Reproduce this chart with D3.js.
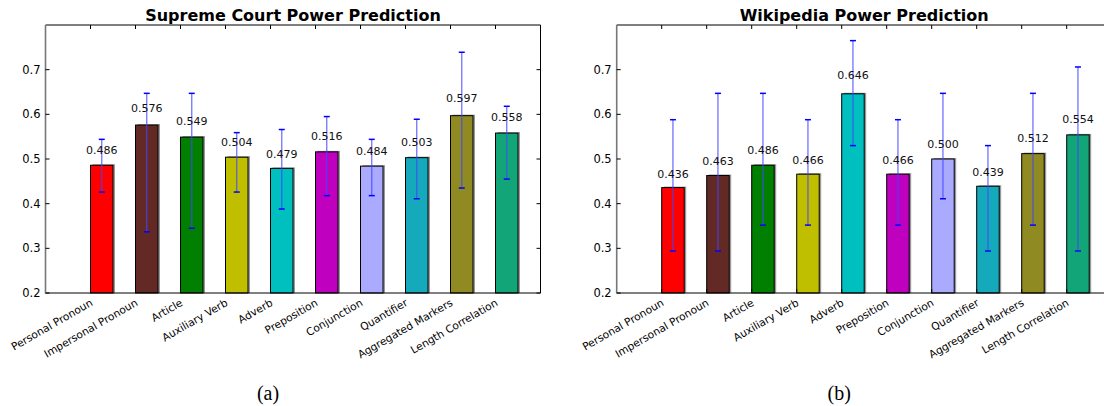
<!DOCTYPE html>
<html>
<head>
<meta charset="utf-8">
<script src="https://cdn.jsdelivr.net/npm/d3@7"></script>
<style>
  body { margin: 0; background: #fff; }
  text { font-family: "DejaVu Sans", sans-serif; }
</style>
</head>
<body>
<svg id="chart" width="1104" height="406"></svg>
<script>
// kategori dan nilai dari kedua panel
var categories = ['Personal Pronoun', 'Impersonal Pronoun', 'Article', 'Auxiliary Verb', 'Adverb',
  'Preposition', 'Conjunction', 'Quantifier', 'Aggregated Markers', 'Length Correlation'];

var courtValues = [0.486, 0.576, 0.549, 0.504, 0.479, 0.516, 0.484, 0.503, 0.597, 0.558];
var courtLow = [0.426, 0.337, 0.345, 0.426, 0.388, 0.418, 0.418, 0.411, 0.435, 0.455];
var courtHigh = [0.544, 0.647, 0.647, 0.559, 0.566, 0.595, 0.544, 0.589, 0.739, 0.618];

var wikiValues = [0.436, 0.463, 0.486, 0.466, 0.646, 0.466, 0.500, 0.439, 0.512, 0.554];
var wikiLow = [0.294, 0.294, 0.352, 0.352, 0.530, 0.352, 0.411, 0.294, 0.352, 0.294];
var wikiHigh = [0.588, 0.647, 0.647, 0.588, 0.765, 0.588, 0.647, 0.530, 0.647, 0.706];

var barColors = ['#ff0000', '#632a25', '#007f00', '#bfbf00', '#00bfbf',
  '#bf00bf', '#aaaaff', '#15aabb', '#8f8b22', '#12a577'];

var yTicks = [0.2, 0.3, 0.4, 0.5, 0.6, 0.7];

var svg = d3.select('#chart');

function drawPanel(left, title, caption, values, low, high) {
  var top = 25, bottom = 293, width = 495;

  var x = d3.scaleLinear().domain([0, 11]).range([left, left + width]);
  var y = d3.scaleLinear().domain([0.2, 0.8]).range([bottom, top]);
  var xTicks = d3.range(1, 11);

  var g = svg.append('g');

  // bayangan dan batang
  g.selectAll('.shadow')
    .data(values)
    .enter().append('rect')
    .attr('x', function(d, i) { return x(i + 1) + 2; })
    .attr('y', function(d) { return y(d) - 1; })
    .attr('width', x(0.5) - x(0))
    .attr('height', function(d) { return bottom - y(d) + 1; })
    .attr('fill', '#999');

  g.selectAll('.bar')
    .data(values)
    .enter().append('rect')
    .attr('x', function(d, i) { return x(i + 1); })
    .attr('y', function(d) { return y(d); })
    .attr('width', x(0.5) - x(0))
    .attr('height', function(d) { return bottom - y(d); })
    .attr('fill', function(d, i) { return barColors[i]; })
    .attr('stroke', '#000')
    .attr('stroke-width', 1);

  // error bar
  var cx = function(i) { return x(i + 1.25); };
  g.selectAll('.err')
    .data(values)
    .enter().append('line')
    .attr('x1', function(d, i) { return cx(i); })
    .attr('x2', function(d, i) { return cx(i); })
    .attr('y1', function(d, i) { return y(low[i]); })
    .attr('y2', function(d, i) { return y(high[i]); })
    .attr('stroke', '#4444ff')
    .attr('stroke-opacity', 0.75)
    .attr('stroke-width', 1.3);

  [low, high].forEach(function(arr) {
    g.selectAll(null)
      .data(arr)
      .enter().append('line')
      .attr('x1', function(d, i) { return cx(i) - 3; })
      .attr('x2', function(d, i) { return cx(i) + 3; })
      .attr('y1', function(d) { return y(d); })
      .attr('y2', function(d) { return y(d); })
      .attr('stroke', '#0000ff')
      .attr('stroke-width', 1.5);
  });

  // label nilai
  g.selectAll('.val')
    .data(values)
    .enter().append('text')
    .attr('x', function(d, i) { return cx(i); })
    .attr('y', function(d) { return y(d * 1.05); })
    .attr('text-anchor', 'middle')
    .attr('font-size', 11)
    .attr('fill', '#111')
    .text(function(d) { return d.toFixed(3); });

  // spines
  g.append('line').attr('x1', left).attr('x2', left + width).attr('y1', top).attr('y2', top)
    .attr('stroke', '#000');
  g.append('line').attr('x1', left).attr('x2', left + width).attr('y1', bottom).attr('y2', bottom)
    .attr('stroke', '#000');
  g.append('line').attr('x1', left + width).attr('x2', left + width).attr('y1', top).attr('y2', bottom)
    .attr('stroke', '#000');
  g.append('line').attr('x1', left).attr('x2', left).attr('y1', top).attr('y2', bottom + 0.5)
    .attr('stroke', '#777').attr('stroke-width', 1.6);

  // tick ke dalam
  g.selectAll('.ty')
    .data(yTicks)
    .enter().append('path')
    .attr('d', function(d) {
      return 'M' + left + ',' + y(d) + 'h4M' + (left + width) + ',' + y(d) + 'h-4';
    })
    .attr('stroke', '#000');
  g.selectAll('.tx')
    .data(xTicks)
    .enter().append('path')
    .attr('d', function(d) {
      return 'M' + x(d) + ',' + top + 'v4M' + x(d) + ',' + bottom + 'v-4';
    })
    .attr('stroke', '#000');

  g.selectAll('.ylab')
    .data(yTicks)
    .enter().append('text')
    .attr('x', left - 5)
    .attr('y', function(d) { return y(d); })
    .attr('dy', '0.36em')
    .attr('text-anchor', 'end')
    .attr('font-size', 11.5)
    .text(function(d) { return d.toFixed(1); });

  g.selectAll('.xlab')
    .data(categories)
    .enter().append('text')
    .attr('transform', function(d, i) {
      return 'translate(' + (x(i + 1) - 1) + ',' + (bottom + 5) + ') rotate(-30)';
    })
    .attr('dy', '0.75em')
    .attr('text-anchor', 'end')
    .attr('font-size', 10.6)
    .text(function(d) { return d; });

  g.append('text')
    .attr('x', left + width / 2)
    .attr('y', 21)
    .attr('text-anchor', 'middle')
    .attr('font-size', 16)
    .attr('font-weight', 'bold')
    .text(title);

  g.append('text')
    .attr('x', left + width / 2 - 25)
    .attr('y', 400)
    .attr('text-anchor', 'middle')
    .attr('font-size', 20)
    .style('font-family', '"Liberation Serif", serif')
    .text(caption);
}

drawPanel(45.5, 'Supreme Court Power Prediction', '(a)', courtValues, courtLow, courtHigh);
drawPanel(616.7, 'Wikipedia Power Prediction', '(b)', wikiValues, wikiLow, wikiHigh);
</script>
</body>
</html>
